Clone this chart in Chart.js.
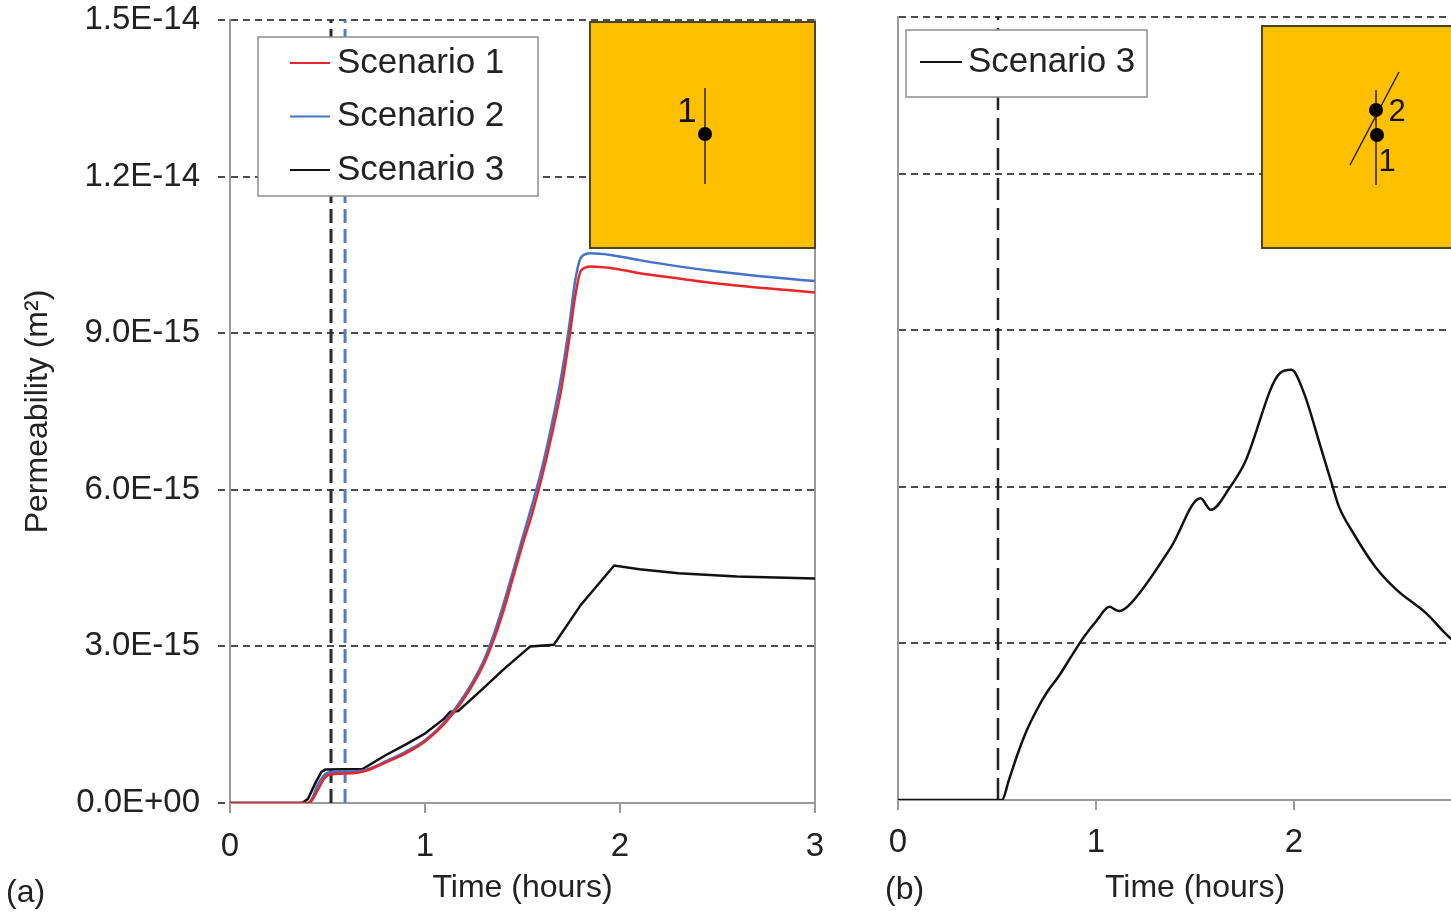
<!DOCTYPE html>
<html>
<head>
<meta charset="utf-8">
<script src="https://cdn.jsdelivr.net/npm/chart.js@4.4.0/dist/chart.umd.min.js"></script>
<style>
  html, body { margin: 0; padding: 0; background: #fff; overflow: hidden; }
  body { width: 1451px; height: 913px; position: relative; }
  canvas { position: absolute; top: 0; }
  #chartA { left: 0; }
  #chartB { left: 860px; }
</style>
</head>
<body>
<canvas id="chartA" width="860" height="913"></canvas>
<canvas id="chartB" width="700" height="913"></canvas>
<script>
// permeability values are in units of 1E-15 m2, time in hours
const yTickLabels = ["0.0E+00", "3.0E-15", "6.0E-15", "9.0E-15", "1.2E-14", "1.5E-14"];

// panel (a): scenarios 1 and 2 share the same sampling times
const timeA12 = [0, 0.40, 0.42, 0.45, 0.48, 0.50, 0.55, 0.65, 0.70, 0.80, 0.90, 1.00, 1.10, 1.20, 1.30, 1.35, 1.40, 1.45, 1.50, 1.55, 1.60, 1.65, 1.70, 1.74, 1.77, 1.80, 1.85, 1.95, 2.10, 2.30, 2.50, 2.75, 3.00];
const scenario1 = [0, 0, 0.05, 0.25, 0.45, 0.53, 0.56, 0.58, 0.62, 0.78, 0.95, 1.18, 1.52, 2.00, 2.65, 3.10, 3.65, 4.30, 4.95, 5.55, 6.25, 7.05, 7.95, 8.90, 9.70, 10.20, 10.28, 10.25, 10.15, 10.05, 9.95, 9.86, 9.78];
const scenario2 = [0, 0, 0.08, 0.35, 0.52, 0.58, 0.60, 0.61, 0.64, 0.80, 0.98, 1.20, 1.55, 2.05, 2.72, 3.20, 3.78, 4.42, 5.08, 5.72, 6.42, 7.25, 8.20, 9.15, 10.00, 10.45, 10.53, 10.50, 10.40, 10.28, 10.18, 10.08, 10.00];
const timeA3 = [0, 0.37, 0.40, 0.44, 0.47, 0.49, 0.68, 0.80, 0.90, 1.00, 1.10, 1.13, 1.17, 1.30, 1.40, 1.54, 1.66, 1.80, 1.97, 2.10, 2.30, 2.60, 3.00];
const scenario3A = [0, 0, 0.08, 0.40, 0.60, 0.64, 0.65, 0.92, 1.12, 1.33, 1.62, 1.75, 1.76, 2.20, 2.55, 3.00, 3.03, 3.80, 4.55, 4.48, 4.40, 4.34, 4.30];
const onsetA = [0.518, 0.59];
const onsetColorsA = ["#2b2b2b", "#4f7fc0"];

// panel (b): scenario 3 at the second point
const timeB = [0, 0.51, 0.525, 0.56, 0.606, 0.65, 0.70, 0.75, 0.81, 0.88, 0.94, 1.00, 1.068, 1.10, 1.12, 1.177, 1.38, 1.528, 1.58, 1.675, 1.75, 1.93, 1.987, 2.05, 2.134, 2.19, 2.227, 2.30, 2.41, 2.52, 2.667, 2.79, 2.90, 3.00];
const scenario3B = [0, 0, 0, 0.38, 0.90, 1.33, 1.72, 2.05, 2.36, 2.78, 3.13, 3.42, 3.70, 3.64, 3.62, 3.77, 4.85, 5.78, 5.56, 5.98, 6.45, 8.18, 8.24, 7.80, 6.77, 6.07, 5.62, 5.11, 4.47, 4.02, 3.58, 3.10, 2.85, 2.62];
const onsetB = [0.505];

const FONT = '"Liberation Sans", Arial, Helvetica, sans-serif';
Chart.defaults.font.family = FONT;
Chart.defaults.color = "#222";

function toPoints(times, values) {
    return times.map((t, i) => ({ x: t, y: values[i] }));
}

function onsetLine(t, color, dash, width) {
    return {
        marker: true,
        data: [{ x: t, y: 0 }, { x: t, y: 15 }],
        borderColor: color,
        borderWidth: width,
        borderDash: dash,
        pointRadius: 0
    };
}

function series(label, times, values, color, width, smooth) {
    return {
        label,
        data: toPoints(times, values),
        borderColor: color,
        borderWidth: width,
        pointRadius: 0,
        cubicInterpolationMode: smooth ? "monotone" : "default",
        tension: 0
    };
}

function legendBox(cfg) {
    return {
        id: "legendBox",
        afterDatasetsDraw(chart) {
            const { ctx, chartArea } = chart;
            const x = chartArea.left + cfg.left;
            const y = chartArea.top + cfg.top;
            ctx.save();
            ctx.fillStyle = "#fff";
            ctx.fillRect(x, y, cfg.width, cfg.height);
            ctx.strokeStyle = "#8c8c8c";
            ctx.lineWidth = 1.5;
            ctx.strokeRect(x, y, cfg.width, cfg.height);
            ctx.font = "35px " + FONT;
            ctx.textBaseline = "middle";
            const items = chart.data.datasets.filter(d => !d.marker);
            items.forEach((d, i) => {
                const ly = y + cfg.firstRow + i * cfg.rowGap;
                ctx.strokeStyle = d.borderColor;
                ctx.lineWidth = 2;
                ctx.beginPath();
                ctx.moveTo(x + cfg.lineStart, ly);
                ctx.lineTo(x + cfg.lineEnd, ly);
                ctx.stroke();
                ctx.fillStyle = "#222";
                ctx.fillText(d.label, x + cfg.textStart, ly);
            });
            ctx.restore();
        }
    };
}

// small map of the fault with the observation points
function fieldInset(cfg) {
    return {
        id: "fieldInset",
        afterDatasetsDraw(chart) {
            const { ctx, chartArea } = chart;
            const x0 = chartArea.left + cfg.left;
            const y0 = chartArea.top + cfg.top;
            ctx.save();
            ctx.fillStyle = "#ffc000";
            ctx.fillRect(x0, y0, cfg.width, cfg.height);
            ctx.strokeStyle = "#4f4220";
            ctx.lineWidth = 2;
            ctx.strokeRect(x0, y0, cfg.width, cfg.height);
            ctx.strokeStyle = "#2a2000";
            ctx.lineWidth = 1.5;
            cfg.traces.forEach(([ax, ay, bx, by]) => {
                ctx.beginPath();
                ctx.moveTo(x0 + ax, y0 + ay);
                ctx.lineTo(x0 + bx, y0 + by);
                ctx.stroke();
            });
            ctx.fillStyle = "#000";
            cfg.points.forEach(([px, py]) => {
                ctx.beginPath();
                ctx.arc(x0 + px, y0 + py, 7, 0, Math.PI * 2);
                ctx.fill();
            });
            ctx.fillStyle = "#1a1200";
            ctx.font = cfg.labelSize + "px " + FONT;
            ctx.textAlign = "center";
            ctx.textBaseline = "middle";
            cfg.labels.forEach(([t, px, py]) => ctx.fillText(t, x0 + px, y0 + py));
            ctx.restore();
        }
    };
}

function panelTag(text, x, y) {
    return {
        id: "panelTag",
        afterDraw(chart) {
            const ctx = chart.ctx;
            ctx.save();
            ctx.font = "32px " + FONT;
            ctx.fillStyle = "#222";
            ctx.textBaseline = "middle";
            ctx.fillText(text, x, y);
            ctx.restore();
        }
    };
}

function timeAxis(height, pad) {
    return {
        type: "linear",
        min: 0,
        max: 3,
        afterFit: s => { s.height = height; },
        ticks: { stepSize: 1, padding: pad, font: { size: 33 }, color: "#222", callback: v => String(v) },
        grid: { drawOnChartArea: false, drawTicks: true, tickLength: 10, color: "#9a9a9a", lineWidth: 2 },
        border: { color: "#9a9a9a", width: 2 },
        title: { display: true, text: "Time (hours)", font: { size: 32 }, color: "#222", padding: { top: 0, bottom: 6 } }
    };
}

// fixed axis width, and no extra room reserved for the end labels
function fixWidth(w) {
    return s => {
        s.width = w;
        s.paddingTop = 0;
        s.paddingBottom = 0;
    };
}

const gridColor = c => (c.tick && c.tick.value === 0 ? "rgba(0,0,0,0)" : "#4d4d4d");

new Chart(document.getElementById("chartA"), {
    type: "line",
    data: {
        datasets: [
            series("Scenario 1", timeA12, scenario1, "#e8262a", 2.5, true),
            series("Scenario 2", timeA12, scenario2, "#4472c4", 2.5, true),
            series("Scenario 3", timeA3, scenario3A, "#111", 2.5, false),
            ...onsetA.map((t, i) => onsetLine(t, onsetColorsA[i], [14, 6], 3))
        ]
    },
    options: {
        responsive: false,
        animation: false,
        layout: { padding: { top: 20, right: 45, bottom: 0, left: 0 } },
        plugins: { legend: { display: false }, tooltip: { enabled: false } },
        scales: {
            x: timeAxis(110, 14),
            y: {
                min: 0,
                max: 15,
                afterFit: fixWidth(230),
                ticks: { stepSize: 3, padding: 18, font: { size: 33 }, color: "#222", callback: v => yTickLabels[Math.round(v / 3)] },
                grid: { color: gridColor, lineWidth: 2, tickLength: 12, tickColor: "#4d4d4d", tickBorderDash: [7, 5] },
                border: { color: "#9a9a9a", width: 2, dash: [7, 5] },
                title: { display: true, text: "Permeability (m²)", font: { size: 32 }, color: "#222", padding: { top: 19, bottom: 0 } }
            },
            frame: {
                type: "linear",
                position: "right",
                afterFit: fixWidth(0),
                ticks: { display: false },
                grid: { display: false },
                border: { display: true, color: "#9a9a9a", width: 2 }
            }
        }
    },
    plugins: [
        legendBox({ left: 28, top: 17, width: 280, height: 159, firstRow: 26, rowGap: 53.5, lineStart: 32, lineEnd: 72, textStart: 79 }),
        fieldInset({ left: 360, top: 2, width: 225, height: 226, traces: [[115, 66, 115, 162]], points: [[115, 112]], labels: [["1", 97, 90]], labelSize: 35 }),
        panelTag("(a)", 6, 893)
    ]
});

new Chart(document.getElementById("chartB"), {
    type: "line",
    data: {
        datasets: [
            series("Scenario 3", timeB, scenario3B, "#111", 2.5, true),
            ...onsetB.map(t => onsetLine(t, "#222", [22, 8], 2.5))
        ]
    },
    options: {
        responsive: false,
        animation: false,
        layout: { padding: { top: 17, right: 68, bottom: 0, left: 0 } },
        plugins: { legend: { display: false }, tooltip: { enabled: false } },
        scales: {
            x: timeAxis(113, 13),
            y: {
                min: 0,
                max: 15,
                afterFit: fixWidth(38),
                ticks: { stepSize: 3, display: false },
                grid: { color: gridColor, lineWidth: 2, drawTicks: false },
                border: { color: "#9a9a9a", width: 2, dash: [7, 5] }
            }
        }
    },
    plugins: [
        legendBox({ left: 8, top: 13, width: 241, height: 67, firstRow: 32, rowGap: 0, lineStart: 14, lineEnd: 56, textStart: 62 }),
        fieldInset({ left: 364, top: 9, width: 225, height: 222, traces: [[114, 64, 114, 159], [88, 139, 137, 46]], points: [[114, 84], [115, 109]], labels: [["2", 135, 86], ["1", 125, 136]], labelSize: 31 }),
        panelTag("(b)", 25, 890)
    ]
});
</script>
</body>
</html>
